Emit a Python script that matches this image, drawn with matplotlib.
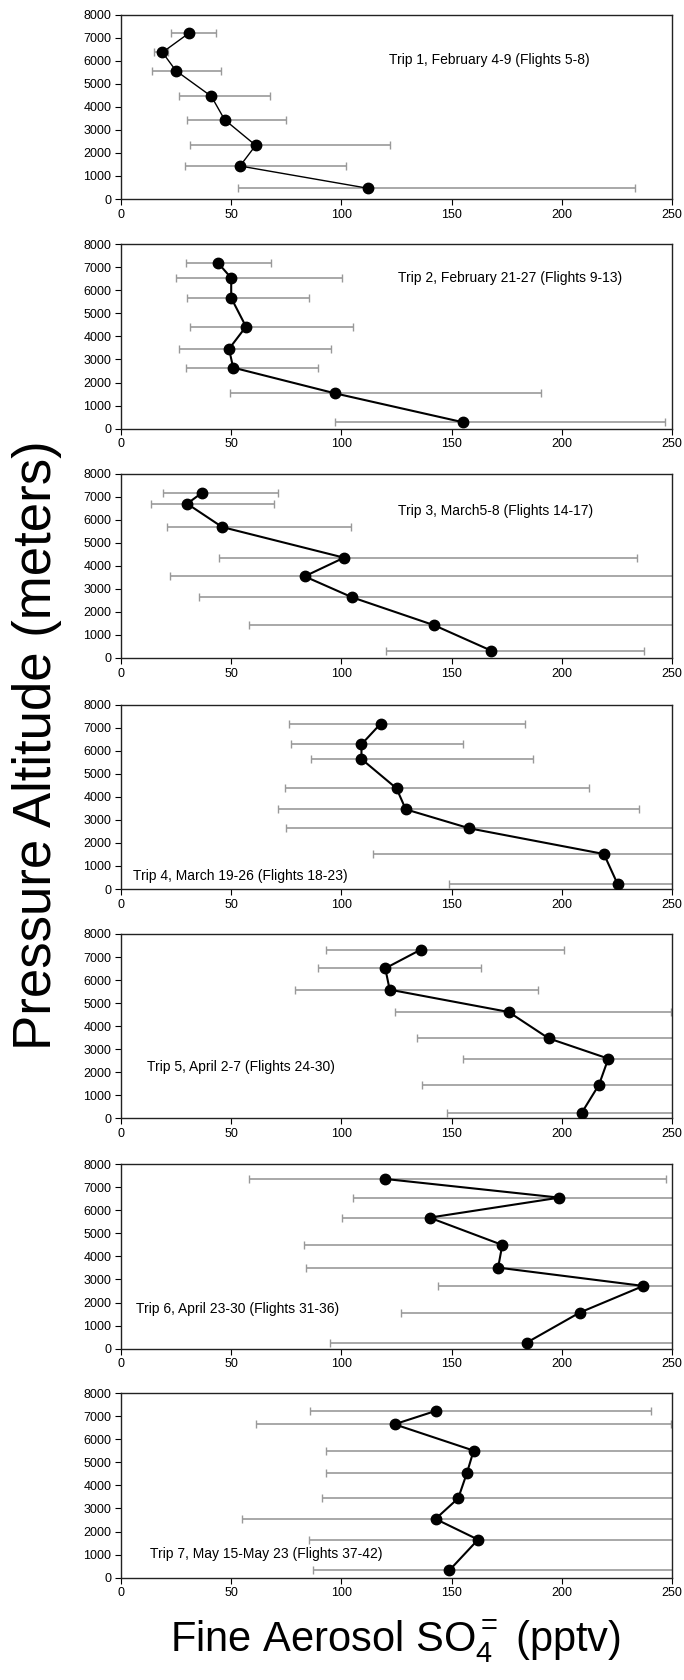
import matplotlib
matplotlib.use("Agg")
import matplotlib.pyplot as plt

plt.rcParams["font.family"] = ["Liberation Sans", "DejaVu Sans"]
plt.rcParams["mathtext.fontset"] = "custom"
plt.rcParams["mathtext.rm"] = "Liberation Sans"
plt.rcParams["mathtext.it"] = "Liberation Sans:italic"

# ── Data ─────────────────────────────────────────────────
# fine aerosol SO4 (pptv) per altitude level, one row per trip
so4 = [
    [30.7, 18.8, 24.9, 41.0, 47.0, 61.1, 54.0, 112.2],
    [43.9, 50.0, 50.0, 56.7, 49.0, 50.9, 97.0, 155.2],
    [36.8, 30.0, 45.9, 101.2, 83.3, 104.9, 142.2, 168.0],
    [117.8, 109.1, 109.1, 125.0, 129.2, 158.1, 219.1, 225.3],
    [136.0, 119.9, 121.9, 175.9, 194.0, 221.1, 216.9, 209.0],
    [119.9, 198.9, 140.0, 173.0, 171.1, 237.0, 208.1, 184.1],
    [142.7, 124.1, 160.0, 157.0, 153.0, 142.7, 162.0, 149.0],
]
altitude = [
    [7190, 6365, 5570, 4456, 3443, 2329, 1432, 463],
    [7204, 6539, 5671, 4427, 3458, 2647, 1533, 275],
    [7175, 6698, 5685, 4354, 3544, 2633, 1418, 318],
    [7175, 6278, 5642, 4369, 3458, 2633, 1519, 217],
    [7320, 6510, 5584, 4615, 3472, 2590, 1461, 231],
    [7363, 6553, 5685, 4499, 3515, 2720, 1562, 260],
    [7233, 6655, 5512, 4557, 3443, 2546, 1649, 318],
]
# error bar ends (pptv); 300 = runs off the right edge of the plot
err_low = [
    [22.6, 15.0, 13.9, 26.2, 29.8, 31.1, 29.1, 53.1],
    [29.3, 24.9, 29.8, 31.1, 26.2, 29.3, 49.3, 97.0],
    [19.0, 13.4, 21.0, 44.4, 22.2, 35.2, 58.0, 120.1],
    [76.2, 77.0, 86.0, 74.2, 71.2, 75.0, 114.3, 149.0],
    [92.8, 89.4, 79.1, 124.1, 134.4, 155.2, 136.4, 148.1],
    [58.0, 105.1, 100.3, 83.1, 84.0, 144.0, 127.2, 95.0],
    [85.8, 61.1, 92.8, 92.8, 91.0, 54.9, 85.1, 87.1],
]
err_high = [
    [43.2, 21.1, 45.2, 67.4, 75.0, 122.1, 102.1, 233.4],
    [68.1, 100.3, 85.1, 105.3, 95.2, 89.2, 190.6, 247.0],
    [71.4, 69.2, 104.2, 234.1, 300, 300, 300, 237.4],
    [183.3, 155.2, 187.1, 212.4, 235.2, 300, 300, 300],
    [201.2, 163.3, 189.1, 249.5, 300, 300, 300, 300],
    [247.3, 300, 300, 300, 300, 300, 300, 300],
    [240.4, 249.6, 300, 300, 300, 300, 300, 300],
]
trip_labels = [
    "Trip 1, February 4-9 (Flights 5-8)",
    "Trip 2, February 21-27 (Flights 9-13)",
    "Trip 3, March5-8 (Flights 14-17)",
    "Trip 4, March 19-26 (Flights 18-23)",
    "Trip 5, April 2-7 (Flights 24-30)",
    "Trip 6, April 23-30 (Flights 31-36)",
    "Trip 7, May 15-May 23 (Flights 37-42)",
]
x_ticks = [0, 50, 100, 150, 200, 250]
y_ticks = [0, 1000, 2000, 3000, 4000, 5000, 6000, 7000, 8000]

# label anchor (data coords, left/center)
label_pos = [(121.6, 6018), (125.5, 6539), (125.5, 6365), (5.4, 579),
             (11.7, 2213), (6.7, 1736), (13.2, 1042)]

# ── Figure ────────────────────────────────────────────────
W, H = 684, 1680
fig = plt.figure(figsize=(W / 100, H / 100), dpi=100)

ax_left, ax_width, ax_height = 121, 551, 184.3
panel_tops = [14.7, 244.3, 473.7, 704.7, 934.0, 1164.3, 1393.3]

for i, top in enumerate(panel_tops):
    ax = fig.add_axes([ax_left / W, 1 - (top + ax_height) / H,
                       ax_width / W, ax_height / H])
    x = so4[i]
    y = altitude[i]
    lo = [xv - l for xv, l in zip(x, err_low[i])]
    hi = [h - xv for xv, h in zip(x, err_high[i])]
    ax.errorbar(x, y, xerr=[lo, hi], fmt="none", ecolor="#999999",
                elinewidth=1.2, capsize=3, capthick=1.0, zorder=1)
    ax.plot(x, y, "-", color="black", lw=1.0 if i == 0 else 1.5, zorder=2)
    ax.plot(x, y, "o", color="black", ms=7.5, zorder=3)

    ax.set_xlim(0, 250)
    ax.set_ylim(0, 8000)
    ax.set_xticks(x_ticks)
    ax.set_yticks(y_ticks)
    ax.tick_params(direction="out", length=4, width=0.8, labelsize=9,
                   colors="black", pad=3)
    for sp in ax.spines.values():
        sp.set_linewidth(1.0)
        sp.set_color("#222222")

    lx, ly = label_pos[i]
    ax.text(lx, ly, trip_labels[i], fontsize=10, ha="left", va="center")

fig.text(37 / W, 1 - 745 / H, "Pressure Altitude (meters)", rotation=90,
         fontsize=38, ha="center", va="center")
fig.text(396 / W, 1 - 1651.7 / H, r"Fine Aerosol SO$_{4}^{=}$ (pptv)",
         fontsize=30, ha="center", va="baseline")

fig.savefig("out.png", dpi=100)
